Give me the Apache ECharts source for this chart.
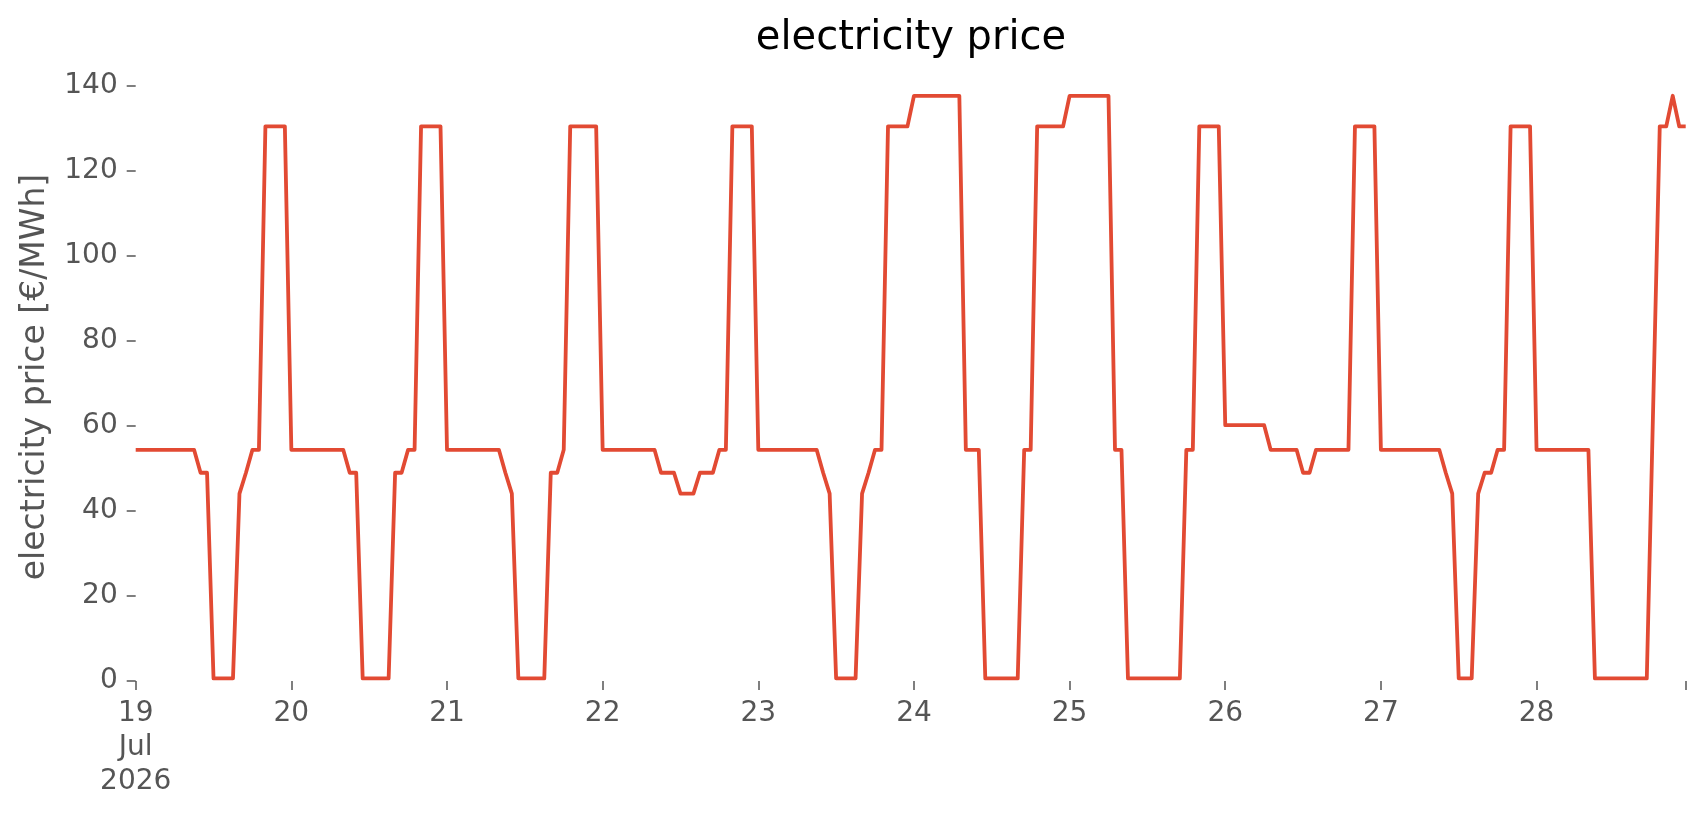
<!DOCTYPE html>
<html>
<head>
<meta charset="utf-8">
<script src="https://cdn.jsdelivr.net/npm/echarts@6/dist/echarts.min.js"></script>
<style>
html,body{margin:0;padding:0;background:#fff;}
#chart{width:1706px;height:815px;}
</style>
</head>
<body>
<div id="chart"></div>
<script>
// hourly series start: 19 Jul 2026 00:00, 240 hourly points
const startYear = 2026, startMonth = 7, startDay = 19;
const hoursCount = 240;
const dayLabels = ['19\nJul\n2026','20','21','22','23','24','25','26','27','28'];
const yTicks = [0, 20, 40, 60, 80, 100, 120, 140];

// electricity price [€/MWh], one row per day (24 hourly values)
const priceDay19 = [54.4,54.4,54.4,54.4,54.4,54.4,54.4,54.4,54.4,54.4,49.0,49.0,0.6,0.6,0.6,0.6,44.1,49.0,54.4,54.4,130.5,130.5,130.5,130.5];
const priceDay20 = [54.4,54.4,54.4,54.4,54.4,54.4,54.4,54.4,54.4,49.0,49.0,0.6,0.6,0.6,0.6,0.6,49.0,49.0,54.4,54.4,130.5,130.5,130.5,130.5];
const priceDay21 = [54.4,54.4,54.4,54.4,54.4,54.4,54.4,54.4,54.4,49.0,44.1,0.6,0.6,0.6,0.6,0.6,49.0,49.0,54.4,130.5,130.5,130.5,130.5,130.5];
const priceDay22 = [54.4,54.4,54.4,54.4,54.4,54.4,54.4,54.4,54.4,49.0,49.0,49.0,44.1,44.1,44.1,49.0,49.0,49.0,54.4,54.4,130.5,130.5,130.5,130.5];
const priceDay23 = [54.4,54.4,54.4,54.4,54.4,54.4,54.4,54.4,54.4,54.4,49.0,44.1,0.6,0.6,0.6,0.6,44.1,49.0,54.4,54.4,130.5,130.5,130.5,130.5];
const priceDay24 = [137.7,137.7,137.7,137.7,137.7,137.7,137.7,137.7,54.4,54.4,54.4,0.6,0.6,0.6,0.6,0.6,0.6,54.4,54.4,130.5,130.5,130.5,130.5,130.5];
const priceDay25 = [137.7,137.7,137.7,137.7,137.7,137.7,137.7,54.4,54.4,0.6,0.6,0.6,0.6,0.6,0.6,0.6,0.6,0.6,54.4,54.4,130.5,130.5,130.5,130.5];
const priceDay26 = [60.2,60.2,60.2,60.2,60.2,60.2,60.2,54.4,54.4,54.4,54.4,54.4,49.0,49.0,54.4,54.4,54.4,54.4,54.4,54.4,130.5,130.5,130.5,130.5];
const priceDay27 = [54.4,54.4,54.4,54.4,54.4,54.4,54.4,54.4,54.4,54.4,49.0,44.1,0.6,0.6,0.6,44.1,49.0,49.0,54.4,54.4,130.5,130.5,130.5,130.5];
const priceDay28 = [54.4,54.4,54.4,54.4,54.4,54.4,54.4,54.4,54.4,0.6,0.6,0.6,0.6,0.6,0.6,0.6,0.6,0.6,65.6,130.5,130.5,137.7,130.5,130.5];

const prices = [].concat(priceDay19, priceDay20, priceDay21, priceDay22, priceDay23,
                         priceDay24, priceDay25, priceDay26, priceDay27, priceDay28);

function pad(n){ return (n < 10 ? '0' : '') + n; }
const categories = [];
for (let h = 0; h < hoursCount; h++) {
  const d = new Date(startYear, startMonth - 1, startDay, h, 0, 0);
  categories.push(d.getFullYear() + '-' + pad(d.getMonth() + 1) + '-' + pad(d.getDate()) + ' ' + pad(d.getHours()) + ':00');
}

const FONT = 'DejaVu Sans';
const chart = echarts.init(document.getElementById('chart'), null, {renderer: 'canvas'});
chart.setOption({
  animation: false,
  backgroundColor: '#ffffff',
  title: {
    text: 'electricity price',
    left: 906,
    textAlign: 'center',
    top: 14,
    textStyle: {fontFamily: FONT, fontSize: 40, fontWeight: 'normal', color: '#000000'}
  },
  grid: {left: 135.7, right: 20.3, top: 86, bottom: 134, containLabel: false},
  xAxis: {
    type: 'category',
    data: categories,
    boundaryGap: false,
    axisLine: {show: false},
    axisTick: {
      show: true,
      length: 9,
      lineStyle: {color: '#555555', width: 1.5},
      interval: function (idx) { return idx % 24 === 0 || idx === hoursCount - 1; }
    },
    axisLabel: {
      interval: function (idx) { return idx % 24 === 0; },
      formatter: function (val, idx) { return dayLabels[Math.floor(idx / 24)]; },
      fontFamily: FONT, fontSize: 28, color: '#555555', lineHeight: 34, margin: 16
    },
    splitLine: {show: false}
  },
  yAxis: {
    type: 'value',
    min: yTicks[0],
    max: yTicks[yTicks.length - 1],
    interval: 20,
    name: 'electricity price [€/MWh]',
    nameLocation: 'middle',
    nameGap: 84,
    nameTextStyle: {fontFamily: FONT, fontSize: 33, color: '#555555', padding: [0, 0, 0, 13]},
    axisLine: {show: false},
    axisTick: {show: true, length: 9, lineStyle: {color: '#555555', width: 1.5}},
    axisLabel: {fontFamily: FONT, fontSize: 28, color: '#555555', margin: 18},
    splitLine: {show: false}
  },
  series: [{
    type: 'line',
    data: prices,
    showSymbol: false,
    symbol: 'none',
    smooth: false,
    lineStyle: {color: '#E24A33', width: 3.8, join: 'round'},
    itemStyle: {color: '#E24A33'}
  }]
});
</script>
</body>
</html>
